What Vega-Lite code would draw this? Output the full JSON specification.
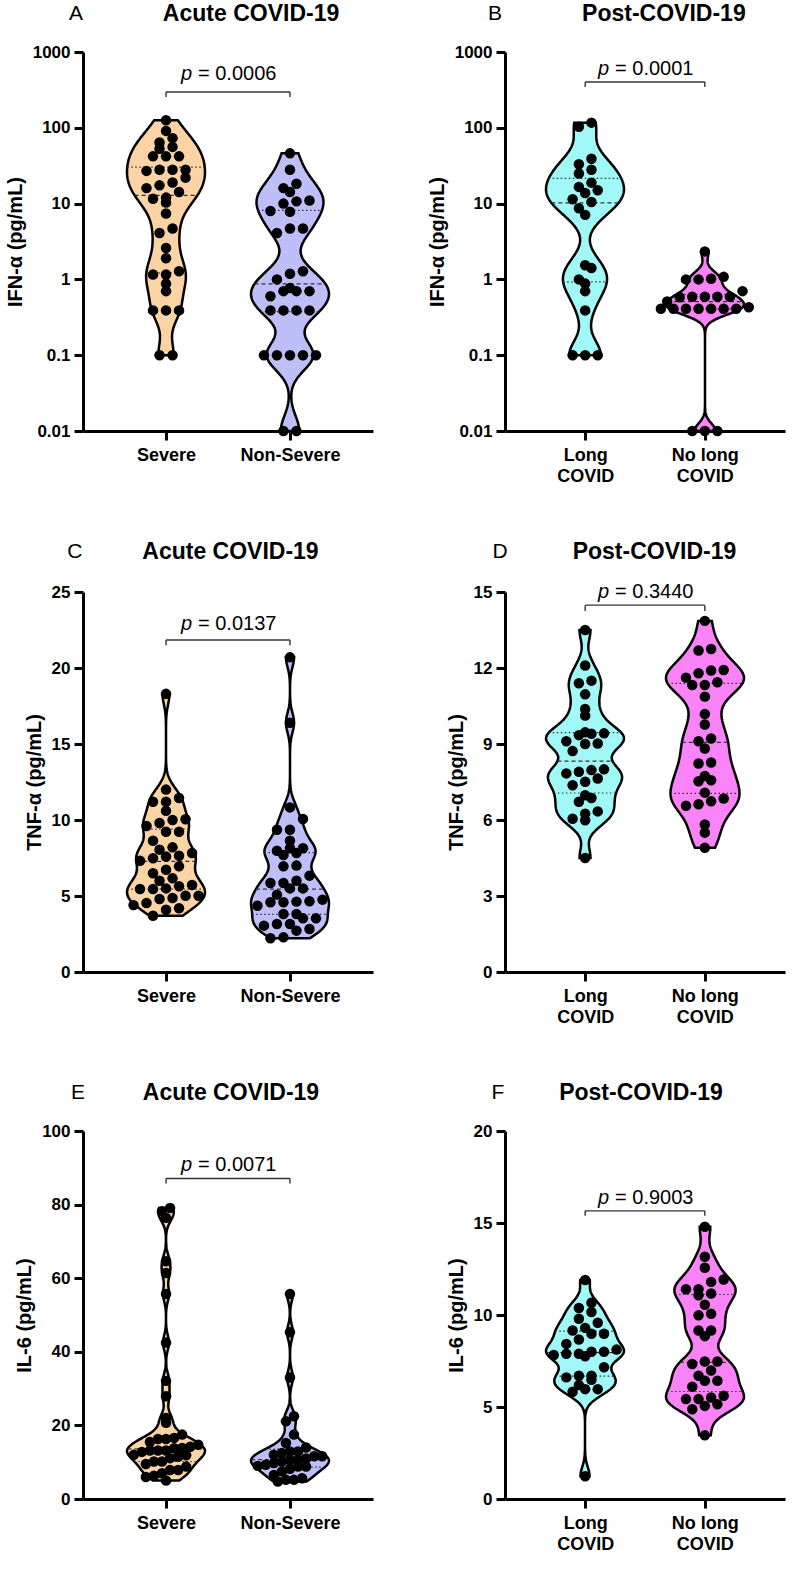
{
"$schema": "https://vega.github.io/schema/vega-lite/v6.json",
"background": "white",
"padding": {"left": 5, "top": 3, "right": 5, "bottom": 5},
"data": {"name": "pts"},
"datasets": {"pts": [
{"p":"A","g":"Severe","v":126},{"p":"A","g":"Severe","v":91},{"p":"A","g":"Severe","v":73},{"p":"A","g":"Severe","v":64},{"p":"A","g":"Severe","v":56},{"p":"A","g":"Severe","v":53},{"p":"A","g":"Severe","v":42},{"p":"A","g":"Severe","v":42},{"p":"A","g":"Severe","v":42},{"p":"A","g":"Severe","v":28},{"p":"A","g":"Severe","v":28},{"p":"A","g":"Severe","v":28},{"p":"A","g":"Severe","v":27},{"p":"A","g":"Severe","v":22},{"p":"A","g":"Severe","v":19},{"p":"A","g":"Severe","v":17.4},{"p":"A","g":"Severe","v":16},{"p":"A","g":"Severe","v":14.2},{"p":"A","g":"Severe","v":12},{"p":"A","g":"Severe","v":11.6},{"p":"A","g":"Severe","v":10.3},{"p":"A","g":"Severe","v":7.4},{"p":"A","g":"Severe","v":4.7},{"p":"A","g":"Severe","v":4.1},{"p":"A","g":"Severe","v":2.6},{"p":"A","g":"Severe","v":1.9},{"p":"A","g":"Severe","v":1.28},{"p":"A","g":"Severe","v":1.16},{"p":"A","g":"Severe","v":1.16},{"p":"A","g":"Severe","v":0.88},{"p":"A","g":"Severe","v":0.7},{"p":"A","g":"Severe","v":0.39},{"p":"A","g":"Severe","v":0.39},{"p":"A","g":"Severe","v":0.39},{"p":"A","g":"Severe","v":0.1},{"p":"A","g":"Severe","v":0.1},
{"p":"A","g":"Non-Severe","v":46},{"p":"A","g":"Non-Severe","v":28},{"p":"A","g":"Non-Severe","v":18.3},{"p":"A","g":"Non-Severe","v":16},{"p":"A","g":"Non-Severe","v":14.2},{"p":"A","g":"Non-Severe","v":11},{"p":"A","g":"Non-Severe","v":10.7},{"p":"A","g":"Non-Severe","v":10},{"p":"A","g":"Non-Severe","v":8},{"p":"A","g":"Non-Severe","v":7.8},{"p":"A","g":"Non-Severe","v":4.7},{"p":"A","g":"Non-Severe","v":4.7},{"p":"A","g":"Non-Severe","v":4.1},{"p":"A","g":"Non-Severe","v":1.28},{"p":"A","g":"Non-Severe","v":1.19},{"p":"A","g":"Non-Severe","v":1.0},{"p":"A","g":"Non-Severe","v":0.77},{"p":"A","g":"Non-Severe","v":0.7},{"p":"A","g":"Non-Severe","v":0.7},{"p":"A","g":"Non-Severe","v":0.7},{"p":"A","g":"Non-Severe","v":0.6},{"p":"A","g":"Non-Severe","v":0.39},{"p":"A","g":"Non-Severe","v":0.39},{"p":"A","g":"Non-Severe","v":0.39},{"p":"A","g":"Non-Severe","v":0.39},{"p":"A","g":"Non-Severe","v":0.1},{"p":"A","g":"Non-Severe","v":0.1},{"p":"A","g":"Non-Severe","v":0.1},{"p":"A","g":"Non-Severe","v":0.1},{"p":"A","g":"Non-Severe","v":0.1},{"p":"A","g":"Non-Severe","v":0.01},{"p":"A","g":"Non-Severe","v":0.01},
{"p":"B","g":"Long COVID","v":117},{"p":"B","g":"Long COVID","v":103},{"p":"B","g":"Long COVID","v":39},{"p":"B","g":"Long COVID","v":33},{"p":"B","g":"Long COVID","v":28},{"p":"B","g":"Long COVID","v":25},{"p":"B","g":"Long COVID","v":18.9},{"p":"B","g":"Long COVID","v":16.6},{"p":"B","g":"Long COVID","v":15},{"p":"B","g":"Long COVID","v":13.8},{"p":"B","g":"Long COVID","v":11.4},{"p":"B","g":"Long COVID","v":10.5},{"p":"B","g":"Long COVID","v":8.7},{"p":"B","g":"Long COVID","v":7.1},{"p":"B","g":"Long COVID","v":1.54},{"p":"B","g":"Long COVID","v":1.41},{"p":"B","g":"Long COVID","v":1.0},{"p":"B","g":"Long COVID","v":0.88},{"p":"B","g":"Long COVID","v":0.7},{"p":"B","g":"Long COVID","v":0.39},{"p":"B","g":"Long COVID","v":0.1},{"p":"B","g":"Long COVID","v":0.1},{"p":"B","g":"Long COVID","v":0.1},
{"p":"B","g":"No long COVID","v":2.34},{"p":"B","g":"No long COVID","v":1.0},{"p":"B","g":"No long COVID","v":1.08},{"p":"B","g":"No long COVID","v":1.02},{"p":"B","g":"No long COVID","v":1.0},{"p":"B","g":"No long COVID","v":0.59},{"p":"B","g":"No long COVID","v":0.59},{"p":"B","g":"No long COVID","v":0.7},{"p":"B","g":"No long COVID","v":0.58},{"p":"B","g":"No long COVID","v":0.59},{"p":"B","g":"No long COVID","v":0.51},{"p":"B","g":"No long COVID","v":0.43},{"p":"B","g":"No long COVID","v":0.59},{"p":"B","g":"No long COVID","v":0.41},{"p":"B","g":"No long COVID","v":0.41},{"p":"B","g":"No long COVID","v":0.41},{"p":"B","g":"No long COVID","v":0.41},{"p":"B","g":"No long COVID","v":0.41},{"p":"B","g":"No long COVID","v":0.41},{"p":"B","g":"No long COVID","v":0.41},{"p":"B","g":"No long COVID","v":0.01},{"p":"B","g":"No long COVID","v":0.01},{"p":"B","g":"No long COVID","v":0.01},
{"p":"C","g":"Severe","v":18.3},{"p":"C","g":"Severe","v":12.0},{"p":"C","g":"Severe","v":11.2},{"p":"C","g":"Severe","v":11.2},{"p":"C","g":"Severe","v":11.45},{"p":"C","g":"Severe","v":10.6},{"p":"C","g":"Severe","v":10.0},{"p":"C","g":"Severe","v":10.05},{"p":"C","g":"Severe","v":9.8},{"p":"C","g":"Severe","v":9.6},{"p":"C","g":"Severe","v":9.23},{"p":"C","g":"Severe","v":9.23},{"p":"C","g":"Severe","v":8.64},{"p":"C","g":"Severe","v":7.83},{"p":"C","g":"Severe","v":8.05},{"p":"C","g":"Severe","v":8.2},{"p":"C","g":"Severe","v":7.65},{"p":"C","g":"Severe","v":7.6},{"p":"C","g":"Severe","v":7.48},{"p":"C","g":"Severe","v":7.32},{"p":"C","g":"Severe","v":6.95},{"p":"C","g":"Severe","v":6.73},{"p":"C","g":"Severe","v":6.5},{"p":"C","g":"Severe","v":6.16},{"p":"C","g":"Severe","v":6.0},{"p":"C","g":"Severe","v":5.72},{"p":"C","g":"Severe","v":5.5},{"p":"C","g":"Severe","v":5.64},{"p":"C","g":"Severe","v":5.46},{"p":"C","g":"Severe","v":5.46},{"p":"C","g":"Severe","v":5.02},{"p":"C","g":"Severe","v":5.02},{"p":"C","g":"Severe","v":4.87},{"p":"C","g":"Severe","v":4.8},{"p":"C","g":"Severe","v":4.54},{"p":"C","g":"Severe","v":4.4},{"p":"C","g":"Severe","v":4.19},{"p":"C","g":"Severe","v":4.1},{"p":"C","g":"Severe","v":3.7},
{"p":"C","g":"Non-Severe","v":20.7},{"p":"C","g":"Non-Severe","v":16.4},{"p":"C","g":"Non-Severe","v":10.83},{"p":"C","g":"Non-Severe","v":10.07},{"p":"C","g":"Non-Severe","v":9.36},{"p":"C","g":"Non-Severe","v":9.36},{"p":"C","g":"Non-Severe","v":8.64},{"p":"C","g":"Non-Severe","v":8.14},{"p":"C","g":"Non-Severe","v":7.98},{"p":"C","g":"Non-Severe","v":8.14},{"p":"C","g":"Non-Severe","v":7.83},{"p":"C","g":"Non-Severe","v":7.7},{"p":"C","g":"Non-Severe","v":7.0},{"p":"C","g":"Non-Severe","v":6.95},{"p":"C","g":"Non-Severe","v":6.34},{"p":"C","g":"Non-Severe","v":5.86},{"p":"C","g":"Non-Severe","v":6.0},{"p":"C","g":"Non-Severe","v":5.86},{"p":"C","g":"Non-Severe","v":5.5},{"p":"C","g":"Non-Severe","v":5.5},{"p":"C","g":"Non-Severe","v":5.09},{"p":"C","g":"Non-Severe","v":4.76},{"p":"C","g":"Non-Severe","v":4.59},{"p":"C","g":"Non-Severe","v":4.63},{"p":"C","g":"Non-Severe","v":4.66},{"p":"C","g":"Non-Severe","v":4.59},{"p":"C","g":"Non-Severe","v":4.36},{"p":"C","g":"Non-Severe","v":3.82},{"p":"C","g":"Non-Severe","v":3.82},{"p":"C","g":"Non-Severe","v":3.53},{"p":"C","g":"Non-Severe","v":3.53},{"p":"C","g":"Non-Severe","v":3.16},{"p":"C","g":"Non-Severe","v":3.16},{"p":"C","g":"Non-Severe","v":3.05},{"p":"C","g":"Non-Severe","v":2.83},{"p":"C","g":"Non-Severe","v":2.72},{"p":"C","g":"Non-Severe","v":2.28},{"p":"C","g":"Non-Severe","v":2.22},
{"p":"D","g":"Long COVID","v":13.5},{"p":"D","g":"Long COVID","v":12.1},{"p":"D","g":"Long COVID","v":11.4},{"p":"D","g":"Long COVID","v":11.5},{"p":"D","g":"Long COVID","v":10.96},{"p":"D","g":"Long COVID","v":10.38},{"p":"D","g":"Long COVID","v":10.12},{"p":"D","g":"Long COVID","v":9.35},{"p":"D","g":"Long COVID","v":9.4},{"p":"D","g":"Long COVID","v":9.46},{"p":"D","g":"Long COVID","v":9.42},{"p":"D","g":"Long COVID","v":9.02},{"p":"D","g":"Long COVID","v":9.0},{"p":"D","g":"Long COVID","v":9.11},{"p":"D","g":"Long COVID","v":8.72},{"p":"D","g":"Long COVID","v":7.84},{"p":"D","g":"Long COVID","v":7.97},{"p":"D","g":"Long COVID","v":8.0},{"p":"D","g":"Long COVID","v":7.9},{"p":"D","g":"Long COVID","v":7.64},{"p":"D","g":"Long COVID","v":7.51},{"p":"D","g":"Long COVID","v":7.37},{"p":"D","g":"Long COVID","v":6.98},{"p":"D","g":"Long COVID","v":6.87},{"p":"D","g":"Long COVID","v":6.72},{"p":"D","g":"Long COVID","v":6.34},{"p":"D","g":"Long COVID","v":6.25},{"p":"D","g":"Long COVID","v":6.05},{"p":"D","g":"Long COVID","v":5.99},{"p":"D","g":"Long COVID","v":4.5},
{"p":"D","g":"No long COVID","v":13.86},{"p":"D","g":"No long COVID","v":12.69},{"p":"D","g":"No long COVID","v":12.75},{"p":"D","g":"No long COVID","v":11.9},{"p":"D","g":"No long COVID","v":11.79},{"p":"D","g":"No long COVID","v":11.92},{"p":"D","g":"No long COVID","v":11.62},{"p":"D","g":"No long COVID","v":11.33},{"p":"D","g":"No long COVID","v":11.33},{"p":"D","g":"No long COVID","v":11.44},{"p":"D","g":"No long COVID","v":10.87},{"p":"D","g":"No long COVID","v":10.18},{"p":"D","g":"No long COVID","v":9.77},{"p":"D","g":"No long COVID","v":9.22},{"p":"D","g":"No long COVID","v":9.11},{"p":"D","g":"No long COVID","v":8.82},{"p":"D","g":"No long COVID","v":8.23},{"p":"D","g":"No long COVID","v":8.27},{"p":"D","g":"No long COVID","v":7.57},{"p":"D","g":"No long COVID","v":7.53},{"p":"D","g":"No long COVID","v":7.74},{"p":"D","g":"No long COVID","v":7.08},{"p":"D","g":"No long COVID","v":6.62},{"p":"D","g":"No long COVID","v":6.56},{"p":"D","g":"No long COVID","v":6.74},{"p":"D","g":"No long COVID","v":6.85},{"p":"D","g":"No long COVID","v":5.82},{"p":"D","g":"No long COVID","v":5.5},{"p":"D","g":"No long COVID","v":4.9},
{"p":"E","g":"Severe","v":79.1},{"p":"E","g":"Severe","v":78.2},{"p":"E","g":"Severe","v":76.4},{"p":"E","g":"Severe","v":64.6},{"p":"E","g":"Severe","v":61.4},{"p":"E","g":"Severe","v":55.7},{"p":"E","g":"Severe","v":42.5},{"p":"E","g":"Severe","v":32.1},{"p":"E","g":"Severe","v":27.9},{"p":"E","g":"Severe","v":22.0},{"p":"E","g":"Severe","v":20.7},{"p":"E","g":"Severe","v":17.5},{"p":"E","g":"Severe","v":16.6},{"p":"E","g":"Severe","v":16.3},{"p":"E","g":"Severe","v":16.3},{"p":"E","g":"Severe","v":15.5},{"p":"E","g":"Severe","v":14.75},{"p":"E","g":"Severe","v":14.2},{"p":"E","g":"Severe","v":13.85},{"p":"E","g":"Severe","v":13.8},{"p":"E","g":"Severe","v":13.2},{"p":"E","g":"Severe","v":13.2},{"p":"E","g":"Severe","v":13.2},{"p":"E","g":"Severe","v":12.8},{"p":"E","g":"Severe","v":12.0},{"p":"E","g":"Severe","v":11.9},{"p":"E","g":"Severe","v":11.5},{"p":"E","g":"Severe","v":11.1},{"p":"E","g":"Severe","v":10.2},{"p":"E","g":"Severe","v":10.2},{"p":"E","g":"Severe","v":9.5},{"p":"E","g":"Severe","v":8.8},{"p":"E","g":"Severe","v":7.9},{"p":"E","g":"Severe","v":7.9},{"p":"E","g":"Severe","v":7.0},{"p":"E","g":"Severe","v":6.3},{"p":"E","g":"Severe","v":6.0},{"p":"E","g":"Severe","v":5.0},
{"p":"E","g":"Non-Severe","v":55.7},{"p":"E","g":"Non-Severe","v":45.3},{"p":"E","g":"Non-Severe","v":33.0},{"p":"E","g":"Non-Severe","v":22.5},{"p":"E","g":"Non-Severe","v":21.1},{"p":"E","g":"Non-Severe","v":17.5},{"p":"E","g":"Non-Severe","v":15.2},{"p":"E","g":"Non-Severe","v":14.0},{"p":"E","g":"Non-Severe","v":12.9},{"p":"E","g":"Non-Severe","v":12.9},{"p":"E","g":"Non-Severe","v":12.5},{"p":"E","g":"Non-Severe","v":12.0},{"p":"E","g":"Non-Severe","v":11.6},{"p":"E","g":"Non-Severe","v":11.6},{"p":"E","g":"Non-Severe","v":11.0},{"p":"E","g":"Non-Severe","v":10.6},{"p":"E","g":"Non-Severe","v":10.6},{"p":"E","g":"Non-Severe","v":10.2},{"p":"E","g":"Non-Severe","v":9.75},{"p":"E","g":"Non-Severe","v":9.3},{"p":"E","g":"Non-Severe","v":9.0},{"p":"E","g":"Non-Severe","v":8.8},{"p":"E","g":"Non-Severe","v":8.8},{"p":"E","g":"Non-Severe","v":8.2},{"p":"E","g":"Non-Severe","v":7.5},{"p":"E","g":"Non-Severe","v":6.5},{"p":"E","g":"Non-Severe","v":5.65},{"p":"E","g":"Non-Severe","v":5.2},{"p":"E","g":"Non-Severe","v":5.2},{"p":"E","g":"Non-Severe","v":4.73},
{"p":"F","g":"Long COVID","v":11.9},{"p":"F","g":"Long COVID","v":10.67},{"p":"F","g":"Long COVID","v":10.38},{"p":"F","g":"Long COVID","v":9.8},{"p":"F","g":"Long COVID","v":10.16},{"p":"F","g":"Long COVID","v":9.58},{"p":"F","g":"Long COVID","v":9.3},{"p":"F","g":"Long COVID","v":9.16},{"p":"F","g":"Long COVID","v":8.98},{"p":"F","g":"Long COVID","v":8.98},{"p":"F","g":"Long COVID","v":8.67},{"p":"F","g":"Long COVID","v":8.43},{"p":"F","g":"Long COVID","v":8.12},{"p":"F","g":"Long COVID","v":8.0},{"p":"F","g":"Long COVID","v":7.89},{"p":"F","g":"Long COVID","v":7.89},{"p":"F","g":"Long COVID","v":8.0},{"p":"F","g":"Long COVID","v":7.76},{"p":"F","g":"Long COVID","v":7.83},{"p":"F","g":"Long COVID","v":7.16},{"p":"F","g":"Long COVID","v":6.7},{"p":"F","g":"Long COVID","v":6.61},{"p":"F","g":"Long COVID","v":6.7},{"p":"F","g":"Long COVID","v":6.48},{"p":"F","g":"Long COVID","v":6.19},{"p":"F","g":"Long COVID","v":5.97},{"p":"F","g":"Long COVID","v":5.97},{"p":"F","g":"Long COVID","v":5.83},{"p":"F","g":"Long COVID","v":1.24},
{"p":"F","g":"No long COVID","v":14.8},{"p":"F","g":"No long COVID","v":13.17},{"p":"F","g":"No long COVID","v":12.57},{"p":"F","g":"No long COVID","v":11.8},{"p":"F","g":"No long COVID","v":11.93},{"p":"F","g":"No long COVID","v":11.4},{"p":"F","g":"No long COVID","v":11.4},{"p":"F","g":"No long COVID","v":11.07},{"p":"F","g":"No long COVID","v":11.17},{"p":"F","g":"No long COVID","v":10.56},{"p":"F","g":"No long COVID","v":9.98},{"p":"F","g":"No long COVID","v":10.07},{"p":"F","g":"No long COVID","v":9.16},{"p":"F","g":"No long COVID","v":9.16},{"p":"F","g":"No long COVID","v":8.85},{"p":"F","g":"No long COVID","v":7.47},{"p":"F","g":"No long COVID","v":7.34},{"p":"F","g":"No long COVID","v":7.47},{"p":"F","g":"No long COVID","v":6.98},{"p":"F","g":"No long COVID","v":6.7},{"p":"F","g":"No long COVID","v":6.43},{"p":"F","g":"No long COVID","v":6.43},{"p":"F","g":"No long COVID","v":6.1},{"p":"F","g":"No long COVID","v":5.43},{"p":"F","g":"No long COVID","v":5.43},{"p":"F","g":"No long COVID","v":5.61},{"p":"F","g":"No long COVID","v":5.15},{"p":"F","g":"No long COVID","v":5.06},{"p":"F","g":"No long COVID","v":5.52},{"p":"F","g":"No long COVID","v":4.88},{"p":"F","g":"No long COVID","v":3.46}
]},
"columns": 2,
"align": "each",
"spacing": {"row": 55, "column": 54},
"concat": [
{
"width": 290, "height": 379,
"resolve": {"scale": {"x": "independent", "y": "independent"}},
"layer": [
{"transform": [{"filter": "datum.p == 'A' && datum.g == 'Severe'"},{"calculate": "log(datum.v) / LN10", "as": "t"},{"joinaggregate": [{"op": "q1", "field": "t", "as": "q1"},{"op": "median", "field": "t", "as": "md"},{"op": "q3", "field": "t", "as": "q3"}]},{"density": "t", "groupby": ["q1","md","q3"], "bandwidth": 0.2, "steps": 200, "as": ["y","d"]},{"stack": "d", "groupby": ["y"], "offset": "center", "as": ["x0","x1"]},{"window": [{"op": "lead", "field": "y", "as": "ny"}], "sort": [{"field": "y"}]}],
 "encoding": {"y": {"field": "y", "type": "quantitative", "scale": {"domain": [-2, 3], "nice": false, "zero": false}, "axis": null}, "x": {"field": "x0", "type": "quantitative", "scale": {"range": [44, 122], "nice": false, "zero": true}, "axis": null}, "x2": {"field": "x1"}},
 "layer": [
  {"mark": {"type": "area", "orient": "horizontal", "fill": "#FCD3A5", "fillOpacity": 1, "stroke": "black", "strokeWidth": 2.5}},
  {"transform": [{"filter": "datum.y <= datum.md && datum.ny > datum.md"}], "mark": {"type": "rule", "color": "#333", "strokeWidth": 1.2, "strokeDash": [4, 3]}},
  {"transform": [{"filter": "(datum.y <= datum.q1 && datum.ny > datum.q1) || (datum.y <= datum.q3 && datum.ny > datum.q3)"}], "mark": {"type": "rule", "color": "#333", "strokeWidth": 1.2, "strokeDash": [1.5, 2.5]}}
 ]},
{"transform": [{"filter": "datum.p == 'A' && datum.g == 'Non-Severe'"},{"calculate": "log(datum.v) / LN10", "as": "t"},{"joinaggregate": [{"op": "q1", "field": "t", "as": "q1"},{"op": "median", "field": "t", "as": "md"},{"op": "q3", "field": "t", "as": "q3"}]},{"density": "t", "groupby": ["q1","md","q3"], "bandwidth": 0.2, "steps": 200, "as": ["y","d"]},{"stack": "d", "groupby": ["y"], "offset": "center", "as": ["x0","x1"]},{"window": [{"op": "lead", "field": "y", "as": "ny"}], "sort": [{"field": "y"}]}],
 "encoding": {"y": {"field": "y", "type": "quantitative", "scale": {"domain": [-2, 3], "nice": false, "zero": false}, "axis": null}, "x": {"field": "x0", "type": "quantitative", "scale": {"range": [168, 246], "nice": false, "zero": true}, "axis": null}, "x2": {"field": "x1"}},
 "layer": [
  {"mark": {"type": "area", "orient": "horizontal", "fill": "#BEBEF9", "fillOpacity": 1, "stroke": "black", "strokeWidth": 2.5}},
  {"transform": [{"filter": "datum.y <= datum.md && datum.ny > datum.md"}], "mark": {"type": "rule", "color": "#333", "strokeWidth": 1.2, "strokeDash": [4, 3]}},
  {"transform": [{"filter": "(datum.y <= datum.q1 && datum.ny > datum.q1) || (datum.y <= datum.q3 && datum.ny > datum.q3)"}], "mark": {"type": "rule", "color": "#333", "strokeWidth": 1.2, "strokeDash": [1.5, 2.5]}}
 ]},
{"layer": [
 {"transform": [{"filter": "datum.p == 'A'"},{"calculate": "log(datum.v) / LN10", "as": "t"},{"bin": {"step": 0.15, "anchor": 0}, "field": "t", "as": "yb"},{"window": [{"op": "row_number", "as": "rn"}], "groupby": ["g","yb"], "sort": [{"field": "v"}]},{"joinaggregate": [{"op": "count", "as": "cnt"}], "groupby": ["g","yb"]},{"calculate": "(datum.g == 'Severe' || datum.g == 'Long COVID' ? 1 : 2) + (datum.rn - (datum.cnt + 1) / 2) * 0.105", "as": "xp"}],
  "mark": {"type": "circle", "size": 110, "color": "black", "opacity": 1},
  "encoding": {
   "x": {"field": "xp", "type": "quantitative", "scale": {"domain": [0.33, 2.67], "nice": false, "zero": false}, "axis": {"orient": "bottom", "values": [1, 2], "labelExpr": "datum.value == 1 ? 'Severe' : 'Non-Severe'", "title": null, "labelFontSize": 18, "labelPadding": 6, "labelLineHeight": 21}},
   "y": {"field": "v", "type": "quantitative", "scale": {"type": "log", "domain": [0.01, 1000], "nice": false}, "axis": {"orient": "left", "values": [0.01, 0.1, 1, 10, 100, 1000], "format": "~g", "title": "IFN-α (pg/mL)"}}}},
 {"data": {"values": [{}]}, "mark": {"type": "rule", "color": "#333", "strokeWidth": 1.4}, "encoding": {"x": {"datum": 1}, "x2": {"datum": 2}, "y": {"datum": 297}}},
 {"data": {"values": [{}]}, "mark": {"type": "rule", "color": "#333", "strokeWidth": 1.4}, "encoding": {"x": {"datum": 1}, "y": {"datum": 297}, "y2": {"datum": 255}}},
 {"data": {"values": [{}]}, "mark": {"type": "rule", "color": "#333", "strokeWidth": 1.4}, "encoding": {"x": {"datum": 2}, "y": {"datum": 297}, "y2": {"datum": 255}}},
 {"data": {"values": [{}]}, "mark": {"type": "text", "text": "p", "fontStyle": "italic", "fontSize": 20, "align": "left", "baseline": "alphabetic"}, "encoding": {"x": {"datum": 1.121}, "y": {"datum": 422}}},
 {"data": {"values": [{}]}, "mark": {"type": "text", "text": "= 0.0006", "fontSize": 20, "align": "left", "baseline": "alphabetic"}, "encoding": {"x": {"datum": 1.258}, "y": {"datum": 422}}},
 {"data": {"values": [{}]}, "mark": {"type": "text", "text": "A", "fontSize": 21, "align": "center", "baseline": "middle"}, "encoding": {"x": {"datum": 0.2735}, "y": {"datum": 3170}}},
 {"data": {"values": [{}]}, "mark": {"type": "text", "text": "Acute COVID-19", "fontSize": 23, "fontWeight": "bold", "align": "center", "baseline": "middle"}, "encoding": {"x": {"datum": 1.686}, "y": {"datum": 3170}}}
]}
]},
{
"width": 280, "height": 379,
"resolve": {"scale": {"x": "independent", "y": "independent"}},
"layer": [
{"transform": [{"filter": "datum.p == 'B' && datum.g == 'Long COVID'"},{"calculate": "log(datum.v) / LN10", "as": "t"},{"joinaggregate": [{"op": "q1", "field": "t", "as": "q1"},{"op": "median", "field": "t", "as": "md"},{"op": "q3", "field": "t", "as": "q3"}]},{"density": "t", "groupby": ["q1","md","q3"], "bandwidth": 0.2, "steps": 200, "as": ["y","d"]},{"stack": "d", "groupby": ["y"], "offset": "center", "as": ["x0","x1"]},{"window": [{"op": "lead", "field": "y", "as": "ny"}], "sort": [{"field": "y"}]}],
 "encoding": {"y": {"field": "y", "type": "quantitative", "scale": {"domain": [-2, 3], "nice": false, "zero": false}, "axis": null}, "x": {"field": "x0", "type": "quantitative", "scale": {"range": [41, 119], "nice": false, "zero": true}, "axis": null}, "x2": {"field": "x1"}},
 "layer": [
  {"mark": {"type": "area", "orient": "horizontal", "fill": "#A0F9F7", "fillOpacity": 1, "stroke": "black", "strokeWidth": 2.5}},
  {"transform": [{"filter": "datum.y <= datum.md && datum.ny > datum.md"}], "mark": {"type": "rule", "color": "#333", "strokeWidth": 1.2, "strokeDash": [4, 3]}},
  {"transform": [{"filter": "(datum.y <= datum.q1 && datum.ny > datum.q1) || (datum.y <= datum.q3 && datum.ny > datum.q3)"}], "mark": {"type": "rule", "color": "#333", "strokeWidth": 1.2, "strokeDash": [1.5, 2.5]}}
 ]},
{"transform": [{"filter": "datum.p == 'B' && datum.g == 'No long COVID'"},{"calculate": "log(datum.v) / LN10", "as": "t"},{"joinaggregate": [{"op": "q1", "field": "t", "as": "q1"},{"op": "median", "field": "t", "as": "md"},{"op": "q3", "field": "t", "as": "q3"}]},{"density": "t", "groupby": ["q1","md","q3"], "bandwidth": 0.1, "steps": 200, "as": ["y","d"]},{"stack": "d", "groupby": ["y"], "offset": "center", "as": ["x0","x1"]},{"window": [{"op": "lead", "field": "y", "as": "ny"}], "sort": [{"field": "y"}]}],
 "encoding": {"y": {"field": "y", "type": "quantitative", "scale": {"domain": [-2, 3], "nice": false, "zero": false}, "axis": null}, "x": {"field": "x0", "type": "quantitative", "scale": {"range": [161, 239], "nice": false, "zero": true}, "axis": null}, "x2": {"field": "x1"}},
 "layer": [
  {"mark": {"type": "area", "orient": "horizontal", "fill": "#F983F7", "fillOpacity": 1, "stroke": "black", "strokeWidth": 2.5}},
  {"transform": [{"filter": "datum.y <= datum.md && datum.ny > datum.md"}], "mark": {"type": "rule", "color": "#333", "strokeWidth": 1.2, "strokeDash": [4, 3]}},
  {"transform": [{"filter": "(datum.y <= datum.q1 && datum.ny > datum.q1) || (datum.y <= datum.q3 && datum.ny > datum.q3)"}], "mark": {"type": "rule", "color": "#333", "strokeWidth": 1.2, "strokeDash": [1.5, 2.5]}}
 ]},
{"layer": [
 {"transform": [{"filter": "datum.p == 'B'"},{"calculate": "log(datum.v) / LN10", "as": "t"},{"bin": {"step": 0.15, "anchor": 0}, "field": "t", "as": "yb"},{"window": [{"op": "row_number", "as": "rn"}], "groupby": ["g","yb"], "sort": [{"field": "v"}]},{"joinaggregate": [{"op": "count", "as": "cnt"}], "groupby": ["g","yb"]},{"calculate": "(datum.g == 'Severe' || datum.g == 'Long COVID' ? 1 : 2) + (datum.rn - (datum.cnt + 1) / 2) * 0.105", "as": "xp"}],
  "mark": {"type": "circle", "size": 110, "color": "black", "opacity": 1},
  "encoding": {
   "x": {"field": "xp", "type": "quantitative", "scale": {"domain": [0.33, 2.67], "nice": false, "zero": false}, "axis": {"orient": "bottom", "values": [1, 2], "labelExpr": "datum.value == 1 ? ['Long', 'COVID'] : ['No long', 'COVID']", "title": null, "labelFontSize": 18, "labelPadding": 6, "labelLineHeight": 21}},
   "y": {"field": "v", "type": "quantitative", "scale": {"type": "log", "domain": [0.01, 1000], "nice": false}, "axis": {"orient": "left", "values": [0.01, 0.1, 1, 10, 100, 1000], "format": "~g", "title": "IFN-α (pg/mL)"}}}},
 {"data": {"values": [{}]}, "mark": {"type": "rule", "color": "#333", "strokeWidth": 1.4}, "encoding": {"x": {"datum": 1}, "x2": {"datum": 2}, "y": {"datum": 402}}},
 {"data": {"values": [{}]}, "mark": {"type": "rule", "color": "#333", "strokeWidth": 1.4}, "encoding": {"x": {"datum": 1}, "y": {"datum": 402}, "y2": {"datum": 345}}},
 {"data": {"values": [{}]}, "mark": {"type": "rule", "color": "#333", "strokeWidth": 1.4}, "encoding": {"x": {"datum": 2}, "y": {"datum": 402}, "y2": {"datum": 345}}},
 {"data": {"values": [{}]}, "mark": {"type": "text", "text": "p", "fontStyle": "italic", "fontSize": 20, "align": "left", "baseline": "alphabetic"}, "encoding": {"x": {"datum": 1.107}, "y": {"datum": 501}}},
 {"data": {"values": [{}]}, "mark": {"type": "text", "text": "= 0.0001", "fontSize": 20, "align": "left", "baseline": "alphabetic"}, "encoding": {"x": {"datum": 1.25}, "y": {"datum": 501}}},
 {"data": {"values": [{}]}, "mark": {"type": "text", "text": "B", "fontSize": 21, "align": "center", "baseline": "middle"}, "encoding": {"x": {"datum": 0.246}, "y": {"datum": 3170}}},
 {"data": {"values": [{}]}, "mark": {"type": "text", "text": "Post-COVID-19", "fontSize": 23, "fontWeight": "bold", "align": "center", "baseline": "middle"}, "encoding": {"x": {"datum": 1.658}, "y": {"datum": 3170}}}
]}
]},
{
"width": 290, "height": 380,
"resolve": {"scale": {"x": "independent", "y": "independent"}},
"layer": [
{"transform": [{"filter": "datum.p == 'C' && datum.g == 'Severe'"},{"joinaggregate": [{"op": "q1", "field": "v", "as": "q1"},{"op": "median", "field": "v", "as": "md"},{"op": "q3", "field": "v", "as": "q3"}]},{"density": "v", "groupby": ["q1","md","q3"], "bandwidth": 0.7, "steps": 200, "as": ["y","d"]},{"stack": "d", "groupby": ["y"], "offset": "center", "as": ["x0","x1"]},{"window": [{"op": "lead", "field": "y", "as": "ny"}], "sort": [{"field": "y"}]}],
 "encoding": {"y": {"field": "y", "type": "quantitative", "scale": {"domain": [0, 25], "nice": false}, "axis": null}, "x": {"field": "x0", "type": "quantitative", "scale": {"range": [44, 122], "nice": false, "zero": true}, "axis": null}, "x2": {"field": "x1"}},
 "layer": [
  {"mark": {"type": "area", "orient": "horizontal", "fill": "#FCD3A5", "fillOpacity": 1, "stroke": "black", "strokeWidth": 2.5}},
  {"transform": [{"filter": "datum.y <= datum.md && datum.ny > datum.md"}], "mark": {"type": "rule", "color": "#333", "strokeWidth": 1.2, "strokeDash": [4, 3]}},
  {"transform": [{"filter": "(datum.y <= datum.q1 && datum.ny > datum.q1) || (datum.y <= datum.q3 && datum.ny > datum.q3)"}], "mark": {"type": "rule", "color": "#333", "strokeWidth": 1.2, "strokeDash": [1.5, 2.5]}}
 ]},
{"transform": [{"filter": "datum.p == 'C' && datum.g == 'Non-Severe'"},{"joinaggregate": [{"op": "q1", "field": "v", "as": "q1"},{"op": "median", "field": "v", "as": "md"},{"op": "q3", "field": "v", "as": "q3"}]},{"density": "v", "groupby": ["q1","md","q3"], "bandwidth": 0.65, "steps": 200, "as": ["y","d"]},{"stack": "d", "groupby": ["y"], "offset": "center", "as": ["x0","x1"]},{"window": [{"op": "lead", "field": "y", "as": "ny"}], "sort": [{"field": "y"}]}],
 "encoding": {"y": {"field": "y", "type": "quantitative", "scale": {"domain": [0, 25], "nice": false}, "axis": null}, "x": {"field": "x0", "type": "quantitative", "scale": {"range": [168, 246], "nice": false, "zero": true}, "axis": null}, "x2": {"field": "x1"}},
 "layer": [
  {"mark": {"type": "area", "orient": "horizontal", "fill": "#BEBEF9", "fillOpacity": 1, "stroke": "black", "strokeWidth": 2.5}},
  {"transform": [{"filter": "datum.y <= datum.md && datum.ny > datum.md"}], "mark": {"type": "rule", "color": "#333", "strokeWidth": 1.2, "strokeDash": [4, 3]}},
  {"transform": [{"filter": "(datum.y <= datum.q1 && datum.ny > datum.q1) || (datum.y <= datum.q3 && datum.ny > datum.q3)"}], "mark": {"type": "rule", "color": "#333", "strokeWidth": 1.2, "strokeDash": [1.5, 2.5]}}
 ]},
{"layer": [
 {"transform": [{"filter": "datum.p == 'C'"},{"bin": {"step": 0.72, "anchor": 0}, "field": "v", "as": "yb"},{"window": [{"op": "row_number", "as": "rn"}], "groupby": ["g","yb"], "sort": [{"field": "v"}]},{"joinaggregate": [{"op": "count", "as": "cnt"}], "groupby": ["g","yb"]},{"calculate": "(datum.g == 'Severe' || datum.g == 'Long COVID' ? 1 : 2) + (datum.rn - (datum.cnt + 1) / 2) * 0.105", "as": "xp"}],
  "mark": {"type": "circle", "size": 110, "color": "black", "opacity": 1},
  "encoding": {
   "x": {"field": "xp", "type": "quantitative", "scale": {"domain": [0.33, 2.67], "nice": false, "zero": false}, "axis": {"orient": "bottom", "values": [1, 2], "labelExpr": "datum.value == 1 ? 'Severe' : 'Non-Severe'", "title": null, "labelFontSize": 18, "labelPadding": 6, "labelLineHeight": 21}},
   "y": {"field": "v", "type": "quantitative", "scale": {"domain": [0, 25], "nice": false}, "axis": {"orient": "left", "values": [0, 5, 10, 15, 20, 25], "title": "TNF-α (pg/mL)"}}}},
 {"data": {"values": [{}]}, "mark": {"type": "rule", "color": "#333", "strokeWidth": 1.4}, "encoding": {"x": {"datum": 1}, "x2": {"datum": 2}, "y": {"datum": 21.84}}},
 {"data": {"values": [{}]}, "mark": {"type": "rule", "color": "#333", "strokeWidth": 1.4}, "encoding": {"x": {"datum": 1}, "y": {"datum": 21.84}, "y2": {"datum": 21.5}}},
 {"data": {"values": [{}]}, "mark": {"type": "rule", "color": "#333", "strokeWidth": 1.4}, "encoding": {"x": {"datum": 2}, "y": {"datum": 21.84}, "y2": {"datum": 21.5}}},
 {"data": {"values": [{}]}, "mark": {"type": "text", "text": "p", "fontStyle": "italic", "fontSize": 20, "align": "left", "baseline": "alphabetic"}, "encoding": {"x": {"datum": 1.121}, "y": {"datum": 22.5}}},
 {"data": {"values": [{}]}, "mark": {"type": "text", "text": "= 0.0137", "fontSize": 20, "align": "left", "baseline": "alphabetic"}, "encoding": {"x": {"datum": 1.258}, "y": {"datum": 22.5}}},
 {"data": {"values": [{}]}, "mark": {"type": "text", "text": "C", "fontSize": 21, "align": "center", "baseline": "middle"}, "encoding": {"x": {"datum": 0.265}, "y": {"datum": 27.63}}},
 {"data": {"values": [{}]}, "mark": {"type": "text", "text": "Acute COVID-19", "fontSize": 23, "fontWeight": "bold", "align": "center", "baseline": "middle"}, "encoding": {"x": {"datum": 1.52}, "y": {"datum": 27.63}}}
]}
]},
{
"width": 280, "height": 380,
"resolve": {"scale": {"x": "independent", "y": "independent"}},
"layer": [
{"transform": [{"filter": "datum.p == 'D' && datum.g == 'Long COVID'"},{"joinaggregate": [{"op": "q1", "field": "v", "as": "q1"},{"op": "median", "field": "v", "as": "md"},{"op": "q3", "field": "v", "as": "q3"}]},{"density": "v", "groupby": ["q1","md","q3"], "bandwidth": 0.45, "steps": 200, "as": ["y","d"]},{"stack": "d", "groupby": ["y"], "offset": "center", "as": ["x0","x1"]},{"window": [{"op": "lead", "field": "y", "as": "ny"}], "sort": [{"field": "y"}]}],
 "encoding": {"y": {"field": "y", "type": "quantitative", "scale": {"domain": [0, 15], "nice": false}, "axis": null}, "x": {"field": "x0", "type": "quantitative", "scale": {"range": [41, 119], "nice": false, "zero": true}, "axis": null}, "x2": {"field": "x1"}},
 "layer": [
  {"mark": {"type": "area", "orient": "horizontal", "fill": "#A0F9F7", "fillOpacity": 1, "stroke": "black", "strokeWidth": 2.5}},
  {"transform": [{"filter": "datum.y <= datum.md && datum.ny > datum.md"}], "mark": {"type": "rule", "color": "#333", "strokeWidth": 1.2, "strokeDash": [4, 3]}},
  {"transform": [{"filter": "(datum.y <= datum.q1 && datum.ny > datum.q1) || (datum.y <= datum.q3 && datum.ny > datum.q3)"}], "mark": {"type": "rule", "color": "#333", "strokeWidth": 1.2, "strokeDash": [1.5, 2.5]}}
 ]},
{"transform": [{"filter": "datum.p == 'D' && datum.g == 'No long COVID'"},{"joinaggregate": [{"op": "q1", "field": "v", "as": "q1"},{"op": "median", "field": "v", "as": "md"},{"op": "q3", "field": "v", "as": "q3"}]},{"density": "v", "groupby": ["q1","md","q3"], "bandwidth": 0.55, "steps": 200, "as": ["y","d"]},{"stack": "d", "groupby": ["y"], "offset": "center", "as": ["x0","x1"]},{"window": [{"op": "lead", "field": "y", "as": "ny"}], "sort": [{"field": "y"}]}],
 "encoding": {"y": {"field": "y", "type": "quantitative", "scale": {"domain": [0, 15], "nice": false}, "axis": null}, "x": {"field": "x0", "type": "quantitative", "scale": {"range": [161, 239], "nice": false, "zero": true}, "axis": null}, "x2": {"field": "x1"}},
 "layer": [
  {"mark": {"type": "area", "orient": "horizontal", "fill": "#F983F7", "fillOpacity": 1, "stroke": "black", "strokeWidth": 2.5}},
  {"transform": [{"filter": "datum.y <= datum.md && datum.ny > datum.md"}], "mark": {"type": "rule", "color": "#333", "strokeWidth": 1.2, "strokeDash": [4, 3]}},
  {"transform": [{"filter": "(datum.y <= datum.q1 && datum.ny > datum.q1) || (datum.y <= datum.q3 && datum.ny > datum.q3)"}], "mark": {"type": "rule", "color": "#333", "strokeWidth": 1.2, "strokeDash": [1.5, 2.5]}}
 ]},
{"layer": [
 {"transform": [{"filter": "datum.p == 'D'"},{"bin": {"step": 0.43, "anchor": 0}, "field": "v", "as": "yb"},{"window": [{"op": "row_number", "as": "rn"}], "groupby": ["g","yb"], "sort": [{"field": "v"}]},{"joinaggregate": [{"op": "count", "as": "cnt"}], "groupby": ["g","yb"]},{"calculate": "(datum.g == 'Severe' || datum.g == 'Long COVID' ? 1 : 2) + (datum.rn - (datum.cnt + 1) / 2) * 0.105", "as": "xp"}],
  "mark": {"type": "circle", "size": 110, "color": "black", "opacity": 1},
  "encoding": {
   "x": {"field": "xp", "type": "quantitative", "scale": {"domain": [0.33, 2.67], "nice": false, "zero": false}, "axis": {"orient": "bottom", "values": [1, 2], "labelExpr": "datum.value == 1 ? ['Long', 'COVID'] : ['No long', 'COVID']", "title": null, "labelFontSize": 18, "labelPadding": 6, "labelLineHeight": 21}},
   "y": {"field": "v", "type": "quantitative", "scale": {"domain": [0, 15], "nice": false}, "axis": {"orient": "left", "values": [0, 3, 6, 9, 12, 15], "title": "TNF-α (pg/mL)"}}}},
 {"data": {"values": [{}]}, "mark": {"type": "rule", "color": "#333", "strokeWidth": 1.4}, "encoding": {"x": {"datum": 1}, "x2": {"datum": 2}, "y": {"datum": 14.48}}},
 {"data": {"values": [{}]}, "mark": {"type": "rule", "color": "#333", "strokeWidth": 1.4}, "encoding": {"x": {"datum": 1}, "y": {"datum": 14.48}, "y2": {"datum": 14.25}}},
 {"data": {"values": [{}]}, "mark": {"type": "rule", "color": "#333", "strokeWidth": 1.4}, "encoding": {"x": {"datum": 2}, "y": {"datum": 14.48}, "y2": {"datum": 14.25}}},
 {"data": {"values": [{}]}, "mark": {"type": "text", "text": "p", "fontStyle": "italic", "fontSize": 20, "align": "left", "baseline": "alphabetic"}, "encoding": {"x": {"datum": 1.107}, "y": {"datum": 14.78}}},
 {"data": {"values": [{}]}, "mark": {"type": "text", "text": "= 0.3440", "fontSize": 20, "align": "left", "baseline": "alphabetic"}, "encoding": {"x": {"datum": 1.25}, "y": {"datum": 14.78}}},
 {"data": {"values": [{}]}, "mark": {"type": "text", "text": "D", "fontSize": 21, "align": "center", "baseline": "middle"}, "encoding": {"x": {"datum": 0.288}, "y": {"datum": 16.58}}},
 {"data": {"values": [{}]}, "mark": {"type": "text", "text": "Post-COVID-19", "fontSize": 23, "fontWeight": "bold", "align": "center", "baseline": "middle"}, "encoding": {"x": {"datum": 1.579}, "y": {"datum": 16.58}}}
]}
]},
{
"width": 290, "height": 368,
"resolve": {"scale": {"x": "independent", "y": "independent"}},
"layer": [
{"transform": [{"filter": "datum.p == 'E' && datum.g == 'Severe'"},{"joinaggregate": [{"op": "q1", "field": "v", "as": "q1"},{"op": "median", "field": "v", "as": "md"},{"op": "q3", "field": "v", "as": "q3"}]},{"density": "v", "groupby": ["q1","md","q3"], "bandwidth": 2, "steps": 300, "as": ["y","d"]},{"stack": "d", "groupby": ["y"], "offset": "center", "as": ["x0","x1"]},{"window": [{"op": "lead", "field": "y", "as": "ny"}], "sort": [{"field": "y"}]}],
 "encoding": {"y": {"field": "y", "type": "quantitative", "scale": {"domain": [0, 100], "nice": false}, "axis": null}, "x": {"field": "x0", "type": "quantitative", "scale": {"range": [44, 122], "nice": false, "zero": true}, "axis": null}, "x2": {"field": "x1"}},
 "layer": [
  {"mark": {"type": "area", "orient": "horizontal", "fill": "#FCD3A5", "fillOpacity": 1, "stroke": "black", "strokeWidth": 2.5}},
  {"transform": [{"filter": "datum.y <= datum.md && datum.ny > datum.md"}], "mark": {"type": "rule", "color": "#333", "strokeWidth": 1.2, "strokeDash": [4, 3]}},
  {"transform": [{"filter": "(datum.y <= datum.q1 && datum.ny > datum.q1) || (datum.y <= datum.q3 && datum.ny > datum.q3)"}], "mark": {"type": "rule", "color": "#333", "strokeWidth": 1.2, "strokeDash": [1.5, 2.5]}}
 ]},
{"transform": [{"filter": "datum.p == 'E' && datum.g == 'Non-Severe'"},{"joinaggregate": [{"op": "q1", "field": "v", "as": "q1"},{"op": "median", "field": "v", "as": "md"},{"op": "q3", "field": "v", "as": "q3"}]},{"density": "v", "groupby": ["q1","md","q3"], "bandwidth": 2, "steps": 300, "as": ["y","d"]},{"stack": "d", "groupby": ["y"], "offset": "center", "as": ["x0","x1"]},{"window": [{"op": "lead", "field": "y", "as": "ny"}], "sort": [{"field": "y"}]}],
 "encoding": {"y": {"field": "y", "type": "quantitative", "scale": {"domain": [0, 100], "nice": false}, "axis": null}, "x": {"field": "x0", "type": "quantitative", "scale": {"range": [168, 246], "nice": false, "zero": true}, "axis": null}, "x2": {"field": "x1"}},
 "layer": [
  {"mark": {"type": "area", "orient": "horizontal", "fill": "#BEBEF9", "fillOpacity": 1, "stroke": "black", "strokeWidth": 2.5}},
  {"transform": [{"filter": "datum.y <= datum.md && datum.ny > datum.md"}], "mark": {"type": "rule", "color": "#333", "strokeWidth": 1.2, "strokeDash": [4, 3]}},
  {"transform": [{"filter": "(datum.y <= datum.q1 && datum.ny > datum.q1) || (datum.y <= datum.q3 && datum.ny > datum.q3)"}], "mark": {"type": "rule", "color": "#333", "strokeWidth": 1.2, "strokeDash": [1.5, 2.5]}}
 ]},
{"layer": [
 {"transform": [{"filter": "datum.p == 'E'"},{"bin": {"step": 3, "anchor": 0}, "field": "v", "as": "yb"},{"window": [{"op": "row_number", "as": "rn"}], "groupby": ["g","yb"], "sort": [{"field": "v"}]},{"joinaggregate": [{"op": "count", "as": "cnt"}], "groupby": ["g","yb"]},{"calculate": "(datum.g == 'Severe' || datum.g == 'Long COVID' ? 1 : 2) + (datum.rn - (datum.cnt + 1) / 2) * 0.065", "as": "xp"}],
  "mark": {"type": "circle", "size": 110, "color": "black", "opacity": 1},
  "encoding": {
   "x": {"field": "xp", "type": "quantitative", "scale": {"domain": [0.33, 2.67], "nice": false, "zero": false}, "axis": {"orient": "bottom", "values": [1, 2], "labelExpr": "datum.value == 1 ? 'Severe' : 'Non-Severe'", "title": null, "labelFontSize": 18, "labelPadding": 6, "labelLineHeight": 21}},
   "y": {"field": "v", "type": "quantitative", "scale": {"domain": [0, 100], "nice": false}, "axis": {"orient": "left", "values": [0, 20, 40, 60, 80, 100], "title": "IL-6 (pg/mL)"}}}},
 {"data": {"values": [{}]}, "mark": {"type": "rule", "color": "#333", "strokeWidth": 1.4}, "encoding": {"x": {"datum": 1}, "x2": {"datum": 2}, "y": {"datum": 87.1}}},
 {"data": {"values": [{}]}, "mark": {"type": "rule", "color": "#333", "strokeWidth": 1.4}, "encoding": {"x": {"datum": 1}, "y": {"datum": 87.1}, "y2": {"datum": 85.7}}},
 {"data": {"values": [{}]}, "mark": {"type": "rule", "color": "#333", "strokeWidth": 1.4}, "encoding": {"x": {"datum": 2}, "y": {"datum": 87.1}, "y2": {"datum": 85.7}}},
 {"data": {"values": [{}]}, "mark": {"type": "text", "text": "p", "fontStyle": "italic", "fontSize": 20, "align": "left", "baseline": "alphabetic"}, "encoding": {"x": {"datum": 1.121}, "y": {"datum": 89.1}}},
 {"data": {"values": [{}]}, "mark": {"type": "text", "text": "= 0.0071", "fontSize": 20, "align": "left", "baseline": "alphabetic"}, "encoding": {"x": {"datum": 1.258}, "y": {"datum": 89.1}}},
 {"data": {"values": [{}]}, "mark": {"type": "text", "text": "E", "fontSize": 21, "align": "center", "baseline": "middle"}, "encoding": {"x": {"datum": 0.29}, "y": {"datum": 110.3}}},
 {"data": {"values": [{}]}, "mark": {"type": "text", "text": "Acute COVID-19", "fontSize": 23, "fontWeight": "bold", "align": "center", "baseline": "middle"}, "encoding": {"x": {"datum": 1.524}, "y": {"datum": 110.3}}}
]}
]},
{
"width": 280, "height": 368,
"resolve": {"scale": {"x": "independent", "y": "independent"}},
"layer": [
{"transform": [{"filter": "datum.p == 'F' && datum.g == 'Long COVID'"},{"joinaggregate": [{"op": "q1", "field": "v", "as": "q1"},{"op": "median", "field": "v", "as": "md"},{"op": "q3", "field": "v", "as": "q3"}]},{"density": "v", "groupby": ["q1","md","q3"], "bandwidth": 0.5, "steps": 200, "as": ["y","d"]},{"stack": "d", "groupby": ["y"], "offset": "center", "as": ["x0","x1"]},{"window": [{"op": "lead", "field": "y", "as": "ny"}], "sort": [{"field": "y"}]}],
 "encoding": {"y": {"field": "y", "type": "quantitative", "scale": {"domain": [0, 20], "nice": false}, "axis": null}, "x": {"field": "x0", "type": "quantitative", "scale": {"range": [41, 119], "nice": false, "zero": true}, "axis": null}, "x2": {"field": "x1"}},
 "layer": [
  {"mark": {"type": "area", "orient": "horizontal", "fill": "#A0F9F7", "fillOpacity": 1, "stroke": "black", "strokeWidth": 2.5}},
  {"transform": [{"filter": "datum.y <= datum.md && datum.ny > datum.md"}], "mark": {"type": "rule", "color": "#333", "strokeWidth": 1.2, "strokeDash": [4, 3]}},
  {"transform": [{"filter": "(datum.y <= datum.q1 && datum.ny > datum.q1) || (datum.y <= datum.q3 && datum.ny > datum.q3)"}], "mark": {"type": "rule", "color": "#333", "strokeWidth": 1.2, "strokeDash": [1.5, 2.5]}}
 ]},
{"transform": [{"filter": "datum.p == 'F' && datum.g == 'No long COVID'"},{"joinaggregate": [{"op": "q1", "field": "v", "as": "q1"},{"op": "median", "field": "v", "as": "md"},{"op": "q3", "field": "v", "as": "q3"}]},{"density": "v", "groupby": ["q1","md","q3"], "bandwidth": 0.6, "steps": 200, "as": ["y","d"]},{"stack": "d", "groupby": ["y"], "offset": "center", "as": ["x0","x1"]},{"window": [{"op": "lead", "field": "y", "as": "ny"}], "sort": [{"field": "y"}]}],
 "encoding": {"y": {"field": "y", "type": "quantitative", "scale": {"domain": [0, 20], "nice": false}, "axis": null}, "x": {"field": "x0", "type": "quantitative", "scale": {"range": [161, 239], "nice": false, "zero": true}, "axis": null}, "x2": {"field": "x1"}},
 "layer": [
  {"mark": {"type": "area", "orient": "horizontal", "fill": "#F983F7", "fillOpacity": 1, "stroke": "black", "strokeWidth": 2.5}},
  {"transform": [{"filter": "datum.y <= datum.md && datum.ny > datum.md"}], "mark": {"type": "rule", "color": "#333", "strokeWidth": 1.2, "strokeDash": [4, 3]}},
  {"transform": [{"filter": "(datum.y <= datum.q1 && datum.ny > datum.q1) || (datum.y <= datum.q3 && datum.ny > datum.q3)"}], "mark": {"type": "rule", "color": "#333", "strokeWidth": 1.2, "strokeDash": [1.5, 2.5]}}
 ]},
{"layer": [
 {"transform": [{"filter": "datum.p == 'F'"},{"bin": {"step": 0.6, "anchor": 0}, "field": "v", "as": "yb"},{"window": [{"op": "row_number", "as": "rn"}], "groupby": ["g","yb"], "sort": [{"field": "v"}]},{"joinaggregate": [{"op": "count", "as": "cnt"}], "groupby": ["g","yb"]},{"calculate": "(datum.g == 'Severe' || datum.g == 'Long COVID' ? 1 : 2) + (datum.rn - (datum.cnt + 1) / 2) * 0.105", "as": "xp"}],
  "mark": {"type": "circle", "size": 110, "color": "black", "opacity": 1},
  "encoding": {
   "x": {"field": "xp", "type": "quantitative", "scale": {"domain": [0.33, 2.67], "nice": false, "zero": false}, "axis": {"orient": "bottom", "values": [1, 2], "labelExpr": "datum.value == 1 ? ['Long', 'COVID'] : ['No long', 'COVID']", "title": null, "labelFontSize": 18, "labelPadding": 6, "labelLineHeight": 21}},
   "y": {"field": "v", "type": "quantitative", "scale": {"domain": [0, 20], "nice": false}, "axis": {"orient": "left", "values": [0, 5, 10, 15, 20], "title": "IL-6 (pg/mL)"}}}},
 {"data": {"values": [{}]}, "mark": {"type": "rule", "color": "#333", "strokeWidth": 1.4}, "encoding": {"x": {"datum": 1}, "x2": {"datum": 2}, "y": {"datum": 15.66}}},
 {"data": {"values": [{}]}, "mark": {"type": "rule", "color": "#333", "strokeWidth": 1.4}, "encoding": {"x": {"datum": 1}, "y": {"datum": 15.66}, "y2": {"datum": 15.39}}},
 {"data": {"values": [{}]}, "mark": {"type": "rule", "color": "#333", "strokeWidth": 1.4}, "encoding": {"x": {"datum": 2}, "y": {"datum": 15.66}, "y2": {"datum": 15.39}}},
 {"data": {"values": [{}]}, "mark": {"type": "text", "text": "p", "fontStyle": "italic", "fontSize": 20, "align": "left", "baseline": "alphabetic"}, "encoding": {"x": {"datum": 1.107}, "y": {"datum": 16.03}}},
 {"data": {"values": [{}]}, "mark": {"type": "text", "text": "= 0.9003", "fontSize": 20, "align": "left", "baseline": "alphabetic"}, "encoding": {"x": {"datum": 1.25}, "y": {"datum": 16.03}}},
 {"data": {"values": [{}]}, "mark": {"type": "text", "text": "F", "fontSize": 21, "align": "center", "baseline": "middle"}, "encoding": {"x": {"datum": 0.2715}, "y": {"datum": 22.07}}},
 {"data": {"values": [{}]}, "mark": {"type": "text", "text": "Post-COVID-19", "fontSize": 23, "fontWeight": "bold", "align": "center", "baseline": "middle"}, "encoding": {"x": {"datum": 1.466}, "y": {"datum": 22.07}}}
]}
]}
],
"config": {
 "view": {"stroke": null},
 "font": "Liberation Sans",
 "axis": {"domainColor": "black", "domainWidth": 3, "tickColor": "black", "tickWidth": 3, "tickSize": 9, "labelColor": "black", "labelFont": "Liberation Sans", "labelFontSize": 17, "labelFontWeight": "bold", "titleColor": "black", "titleFont": "Liberation Sans", "titleFontSize": 20, "titleFontWeight": "bold", "grid": false, "labelPadding": 4, "titlePadding": 7, "labelOverlap": false, "labelFlush": false},
 "text": {"font": "Liberation Sans", "color": "black"}
}
}
